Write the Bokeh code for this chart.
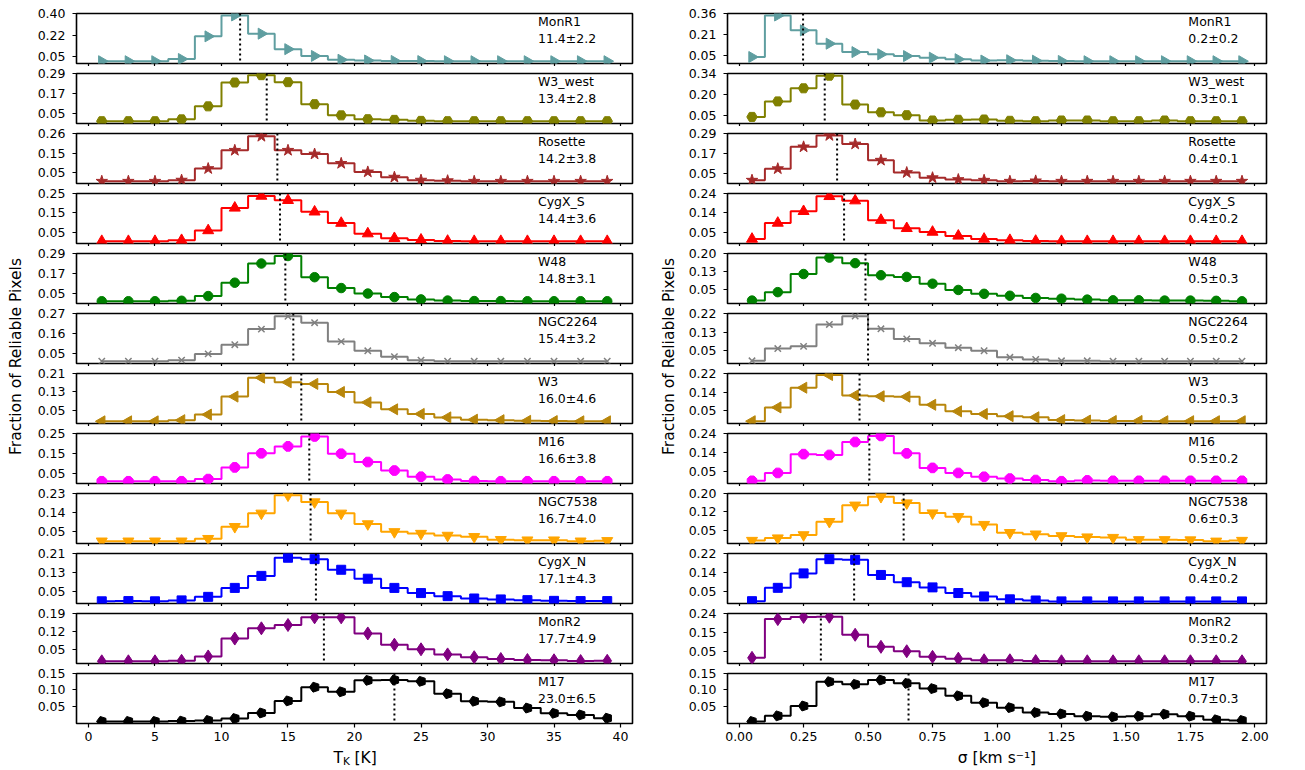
import math
from bokeh.plotting import figure
from bokeh.layouts import row, column
from bokeh.models import Range1d, FixedTicker, Span
from bokeh.core.properties import value
from bokeh.embed import file_html
from bokeh.resources import INLINE

FONT = "DejaVu Sans"

# ---------------- data ----------------
regions = ["MonR1", "W3_west", "Rosette", "CygX_S", "W48", "NGC2264",
           "W3", "M16", "NGC7538", "CygX_N", "MonR2", "M17"]

tk_centers = [1, 3, 5, 7, 9, 11, 13, 15, 17, 19, 21, 23, 25, 27, 29, 31, 33, 35, 37, 39]
sig_centers = [0.05, 0.15, 0.25, 0.35, 0.45, 0.55, 0.65, 0.75, 0.85, 0.95,
               1.05, 1.15, 1.25, 1.35, 1.45, 1.55, 1.65, 1.75, 1.85, 1.95]

tk_MonR1 = [0.012, 0.012, 0.012, 0.030, 0.214, 0.384, 0.236, 0.110, 0.055, 0.024, 0.018, 0.014, 0.013, 0.012, 0.012, 0.012, 0.012, 0.012, 0.012, 0.012]
tk_W3_west = [0.004, 0.004, 0.004, 0.015, 0.093, 0.236, 0.280, 0.238, 0.106, 0.039, 0.016, 0.012, 0.006, 0.004, 0.004, 0.004, 0.004, 0.004, 0.004, 0.004]
tk_Rosette = [0.004, 0.004, 0.004, 0.010, 0.072, 0.170, 0.245, 0.170, 0.150, 0.100, 0.054, 0.026, 0.010, 0.007, 0.004, 0.004, 0.004, 0.004, 0.004, 0.004]
tk_CygX_S = [0.005, 0.005, 0.005, 0.010, 0.060, 0.176, 0.237, 0.215, 0.156, 0.098, 0.044, 0.020, 0.012, 0.006, 0.005, 0.005, 0.005, 0.005, 0.005, 0.005]
tk_W48 = [0.004, 0.004, 0.004, 0.007, 0.035, 0.115, 0.230, 0.275, 0.148, 0.083, 0.050, 0.029, 0.015, 0.008, 0.005, 0.005, 0.004, 0.004, 0.004, 0.004]
tk_NGC2264 = [0.010, 0.010, 0.010, 0.016, 0.050, 0.100, 0.185, 0.255, 0.220, 0.117, 0.067, 0.035, 0.016, 0.010, 0.010, 0.010, 0.010, 0.010, 0.010, 0.010]
tk_W3 = [0.003, 0.003, 0.003, 0.008, 0.032, 0.110, 0.192, 0.172, 0.165, 0.130, 0.085, 0.055, 0.035, 0.020, 0.010, 0.008, 0.005, 0.004, 0.003, 0.003]
tk_M16 = [0.009, 0.009, 0.009, 0.009, 0.020, 0.079, 0.150, 0.185, 0.235, 0.148, 0.106, 0.063, 0.032, 0.018, 0.010, 0.009, 0.009, 0.009, 0.009, 0.009]
tk_NGC7538 = [0.006, 0.006, 0.006, 0.006, 0.018, 0.074, 0.137, 0.222, 0.190, 0.137, 0.087, 0.050, 0.042, 0.033, 0.027, 0.013, 0.011, 0.011, 0.006, 0.008]
tk_CygX_N = [0.007, 0.008, 0.007, 0.011, 0.026, 0.064, 0.115, 0.192, 0.186, 0.141, 0.103, 0.064, 0.042, 0.029, 0.019, 0.015, 0.012, 0.009, 0.008, 0.008]
tk_MonR2 = [0.003, 0.003, 0.003, 0.005, 0.022, 0.092, 0.132, 0.145, 0.175, 0.175, 0.112, 0.068, 0.050, 0.030, 0.019, 0.012, 0.008, 0.007, 0.004, 0.005]
tk_M17 = [0.003, 0.003, 0.003, 0.004, 0.006, 0.012, 0.029, 0.066, 0.108, 0.094, 0.129, 0.130, 0.126, 0.088, 0.065, 0.063, 0.044, 0.028, 0.023, 0.013]

sig_MonR1 = [0.040, 0.345, 0.236, 0.138, 0.076, 0.060, 0.047, 0.035, 0.024, 0.014, 0.016, 0.013, 0.011, 0.009, 0.009, 0.009, 0.009, 0.009, 0.009, 0.009]
sig_W3_west = [0.038, 0.146, 0.237, 0.325, 0.124, 0.070, 0.050, 0.013, 0.018, 0.020, 0.011, 0.008, 0.013, 0.013, 0.008, 0.008, 0.013, 0.008, 0.008, 0.008]
sig_Rosette = [0.010, 0.079, 0.210, 0.278, 0.227, 0.130, 0.056, 0.025, 0.014, 0.010, 0.004, 0.006, 0.004, 0.004, 0.004, 0.004, 0.004, 0.004, 0.004, 0.004]
sig_CygX_S = [0.018, 0.096, 0.153, 0.226, 0.205, 0.110, 0.070, 0.052, 0.033, 0.018, 0.012, 0.008, 0.007, 0.007, 0.007, 0.007, 0.007, 0.007, 0.007, 0.007]
sig_W48 = [0.005, 0.040, 0.115, 0.183, 0.160, 0.110, 0.103, 0.075, 0.049, 0.033, 0.025, 0.016, 0.013, 0.009, 0.006, 0.006, 0.005, 0.005, 0.004, 0.002]
sig_NGC2264 = [0.004, 0.060, 0.070, 0.170, 0.208, 0.150, 0.104, 0.084, 0.064, 0.050, 0.020, 0.010, 0.004, 0.004, 0.002, 0.002, 0.002, 0.002, 0.002, 0.002]
sig_W3 = [0.002, 0.065, 0.155, 0.213, 0.120, 0.116, 0.114, 0.077, 0.047, 0.035, 0.025, 0.020, 0.007, 0.005, 0.003, 0.003, 0.002, 0.002, 0.002, 0.002]
sig_M16 = [0.006, 0.045, 0.138, 0.134, 0.198, 0.228, 0.142, 0.070, 0.045, 0.026, 0.017, 0.010, 0.004, 0.008, 0.006, 0.006, 0.006, 0.006, 0.006, 0.006]
sig_NGC7538 = [0.008, 0.018, 0.031, 0.085, 0.152, 0.187, 0.161, 0.120, 0.105, 0.073, 0.040, 0.034, 0.027, 0.022, 0.020, 0.011, 0.011, 0.010, 0.005, 0.008]
sig_CygX_N = [0.009, 0.068, 0.132, 0.195, 0.192, 0.125, 0.093, 0.070, 0.045, 0.030, 0.017, 0.012, 0.008, 0.008, 0.008, 0.008, 0.008, 0.008, 0.008, 0.008]
sig_MonR2 = [0.019, 0.212, 0.223, 0.224, 0.134, 0.074, 0.052, 0.024, 0.015, 0.007, 0.007, 0.003, 0.002, 0.002, 0.002, 0.002, 0.002, 0.002, 0.002, 0.002]
sig_M17 = [0.004, 0.021, 0.051, 0.125, 0.117, 0.130, 0.120, 0.104, 0.082, 0.061, 0.046, 0.031, 0.027, 0.020, 0.018, 0.020, 0.026, 0.020, 0.009, 0.007]

tk_mean = [11.4, 13.4, 14.2, 14.4, 14.8, 15.4, 16.0, 16.6, 16.7, 17.1, 17.7, 23.0]
tk_std = [2.2, 2.8, 3.8, 3.6, 3.1, 3.2, 4.6, 3.8, 4.0, 4.3, 4.9, 6.5]
sig_mean = [0.248, 0.332, 0.380, 0.407, 0.490, 0.500, 0.467, 0.505, 0.638, 0.446, 0.317, 0.657]
sig_std = [0.2, 0.1, 0.1, 0.2, 0.3, 0.2, 0.3, 0.2, 0.3, 0.2, 0.2, 0.3]

# y-axis tick labels (top and middle) of each panel
tk_ytop = [0.40, 0.29, 0.26, 0.25, 0.29, 0.27, 0.21, 0.25, 0.23, 0.21, 0.19, 0.15]
tk_ymid = ["0.22", "0.17", "0.15", "0.15", "0.17", "0.16", "0.13", "0.15", "0.14", "0.13", "0.12", "0.10"]
sig_ytop = [0.36, 0.34, 0.29, 0.24, 0.20, 0.22, 0.22, 0.24, 0.20, 0.22, 0.24, 0.15]
sig_ymid = ["0.21", "0.20", "0.17", "0.14", "0.13", "0.13", "0.14", "0.14", "0.12", "0.14", "0.15", "0.10"]

tk_xticks = [0, 5, 10, 15, 20, 25, 30, 35, 40]
sig_xticks = [0.0, 0.25, 0.5, 0.75, 1.0, 1.25, 1.5, 1.75, 2.0]
sig_xlabels = ["0.00", "0.25", "0.50", "0.75", "1.00", "1.25", "1.50", "1.75", "2.00"]

tk_series = [tk_MonR1, tk_W3_west, tk_Rosette, tk_CygX_S, tk_W48, tk_NGC2264,
             tk_W3, tk_M16, tk_NGC7538, tk_CygX_N, tk_MonR2, tk_M17]
sig_series = [sig_MonR1, sig_W3_west, sig_Rosette, sig_CygX_S, sig_W48, sig_NGC2264,
              sig_W3, sig_M16, sig_NGC7538, sig_CygX_N, sig_MonR2, sig_M17]

# ---------------- styles ----------------
colors = ["cadetblue", "olive", "brown", "red", "green", "gray",
          "darkgoldenrod", "magenta", "orange", "blue", "purple", "black"]
markers = ["tri_right", "hexagon", "star", "tri_up", "circle", "x",
           "tri_left", "octagon", "tri_down", "square", "diamond", "pentagon"]

FS = "12.5px"
FS_AXIS = "15.5px"
FRAME_H = 50
TOP_FIRST = 13
TOP_B, BOT_B = 7, 3


def add_markers(p, xs, ys, kind, color):
    if kind == "tri_right":
        p.scatter(xs, ys, marker="triangle", angle=-math.pi / 2, size=11, color=color)
    elif kind == "tri_left":
        p.scatter(xs, ys, marker="triangle", angle=math.pi / 2, size=11, color=color)
    elif kind == "tri_up":
        p.scatter(xs, ys, marker="triangle", size=11, color=color)
    elif kind == "tri_down":
        p.scatter(xs, ys, marker="inverted_triangle", size=11, color=color)
    elif kind in ("hexagon", "octagon", "pentagon"):
        n = {"hexagon": 6, "octagon": 8, "pentagon": 5}[kind]
        ang = {"hexagon": math.pi / 2, "octagon": math.pi / 8, "pentagon": math.pi / 2}[kind]
        if hasattr(p, "ngon"):
            p.ngon(xs, ys, radius=5.2, radius_units="screen", n=n, angle=ang,
                   fill_color=color, line_color=color)
        else:
            p.scatter(xs, ys, marker="hex", size=10, color=color)
    elif kind == "star":
        p.scatter(xs, ys, marker="star", size=12, color=color)
    elif kind == "circle":
        p.scatter(xs, ys, marker="circle", size=9.5, color=color)
    elif kind == "x":
        p.scatter(xs, ys, marker="x", size=9, line_color=color, line_width=1.5)
    elif kind == "square":
        p.scatter(xs, ys, marker="square", size=9, color=color)
    elif kind == "diamond":
        p.scatter(xs, ys, marker="diamond", size=13, color=color)


def make_panel(xs, ys, top, mid_label, mean, stat_text, name, color, kind,
               first, last, xticks, xlabels, frame_w, bl, br, text_frac):
    span_x = xs[-1] - xs[0]
    x0, x1 = xs[0] - 0.05 * span_x, xs[-1] + 0.05 * span_x
    ymin, ymax = min(ys), max(ys)
    y0 = ymin - 0.05 * (ymax - ymin)
    p = figure(frame_width=frame_w, frame_height=FRAME_H,
               x_range=Range1d(x0, x1), y_range=Range1d(y0, top),
               output_backend="svg", toolbar_location=None, title=None,
               min_border_left=bl, min_border_right=br,
               min_border_top=TOP_FIRST if first else TOP_B,
               min_border_bottom=BOT_B, background_fill_color="white",
               border_fill_color="white")
    p.xgrid.visible = False
    p.ygrid.visible = False
    p.outline_line_color = "black"
    p.outline_line_width = 1.6
    p.outline_line_alpha = 1.0

    for ax in (p.xaxis[0], p.yaxis[0]):
        ax.axis_line_color = None
        ax.major_tick_out = 4
        ax.major_tick_in = 0
        ax.major_tick_line_width = 1.2
        ax.major_tick_line_color = "black"
        ax.minor_tick_line_color = None
        ax.major_label_text_font = FONT
        ax.major_label_text_font_size = FS
        ax.major_label_text_color = "black"

    mid = (0.05 + top) / 2
    p.yaxis.ticker = FixedTicker(ticks=[0.05, mid, top])
    p.yaxis.major_label_overrides = {0.05: "0.05", mid: mid_label, top: "%.2f" % top}
    p.yaxis.major_label_standoff = 7

    p.xaxis.ticker = FixedTicker(ticks=xticks)
    if last:
        p.xaxis.major_label_standoff = 4
        p.xaxis.major_label_overrides = {t: l for t, l in zip(xticks, xlabels)}
    else:
        # tick marks only: the labels are neither drawn nor given room
        p.xaxis.major_tick_out = 3
        p.xaxis.major_label_text_font_size = "0px"
        p.xaxis.major_label_text_color = None
        p.xaxis.major_label_text_alpha = 0
        p.xaxis.major_label_standoff = 0

    p.step(xs, ys, mode="center", line_color=color, line_width=2)
    add_markers(p, xs, ys, kind, color)
    p.add_layout(Span(location=mean, dimension="height", line_color="black",
                      line_dash="2 3", line_width=2))

    tx = x0 + text_frac * (x1 - x0)
    hy = top - y0
    p.text(x=[tx], y=[top - 8.0 / FRAME_H * hy], text=[name],
           text_font=value(FONT), text_font_size=FS, text_color="black",
           text_align="left", text_baseline="middle")
    p.text(x=[tx], y=[top - 25.0 / FRAME_H * hy], text=[stat_text],
           text_font=value(FONT), text_font_size=FS, text_color="black",
           text_align="left", text_baseline="middle")
    return p, (x0, x1)


def make_column(centers, series, tops, mids, means, stat_texts, xticks, xlabels,
                frame_w, bl, br, text_frac):
    figs = []
    xr = None
    n = len(regions)
    for i, name in enumerate(regions):
        p, xr = make_panel(centers, series[i], tops[i], mids[i], means[i], stat_texts[i],
                           name, colors[i], markers[i], i == 0, i == n - 1, xticks, xlabels,
                           frame_w, bl, br, text_frac)
        figs.append(p)
    return figs, xr


XLAB_H = 24


def xlabel_fig(xr, frame_w, bl, br, parts):
    p = figure(frame_width=frame_w, frame_height=XLAB_H, x_range=Range1d(*xr),
               y_range=Range1d(0, XLAB_H), x_axis_type=None, y_axis_type=None,
               output_backend="svg", toolbar_location=None, title=None,
               min_border_left=bl, min_border_right=br, min_border_top=0,
               min_border_bottom=0)
    p.outline_line_color = None
    p.xgrid.visible = False
    p.ygrid.visible = False
    xc = (xr[0] + xr[1]) / 2
    for txt, dx, dy, fs, align in parts:
        p.text(x=[xc], y=[10], text=[txt], x_offset=dx, y_offset=dy,
               text_font=value(FONT), text_font_size=fs, text_color="black",
               text_align=align, text_baseline="alphabetic")
    return p


def ylabel_fig(width, height, cx, cy):
    p = figure(frame_width=width, frame_height=height, x_range=Range1d(0, width),
               y_range=Range1d(0, height), x_axis_type=None, y_axis_type=None,
               output_backend="svg", toolbar_location=None, title=None,
               min_border=0)
    p.outline_line_color = None
    p.xgrid.visible = False
    p.ygrid.visible = False
    p.text(x=[cx], y=[height - cy], text=["Fraction of Reliable Pixels"], angle=math.pi / 2,
           text_font=value(FONT), text_font_size=FS_AXIS, text_color="black",
           text_align="center", text_baseline="middle")
    return p


tk_stats = ["%.1f±%.1f" % (m, s) for m, s in zip(tk_mean, tk_std)]
sig_stats = ["%.1f±%.1f" % (m, s) for m, s in zip(sig_mean, sig_std)]

LW, LBL, LBR = 556, 46, 18
RW, RBL, RBR = 539, 47, 20

left_figs, lxr = make_column(tk_centers, tk_series, tk_ytop, tk_ymid, tk_mean, tk_stats,
                             tk_xticks, [str(t) for t in tk_xticks], LW, LBL, LBR, 0.83)
right_figs, rxr = make_column(sig_centers, sig_series, sig_ytop, sig_ymid, sig_mean, sig_stats,
                              sig_xticks, sig_xlabels, RW, RBL, RBR, 0.855)

left_xlab = xlabel_fig(lxr, LW, LBL, LBR,
                       [("T", -21.0, 0, FS_AXIS, "left"),
                        ("K", -11.6, 3.0, "10.5px", "left"),
                        ("[K]", 0.0, 0, FS_AXIS, "left")])
right_xlab = xlabel_fig(rxr, RW, RBL, RBR, [("σ [km s⁻¹]", 0, 0, FS_AXIS, "center")])

TOTAL_H = 769
ylab_l = ylabel_fig(30, TOTAL_H, 15, 356)
ylab_r = ylabel_fig(30, TOTAL_H, 18, 356)

layout = row(ylab_l, column(*left_figs, left_xlab), ylab_r, column(*right_figs, right_xlab))

with open("out.html", "w") as f:
    f.write(file_html(layout, INLINE, title="Fraction of Reliable Pixels"))
